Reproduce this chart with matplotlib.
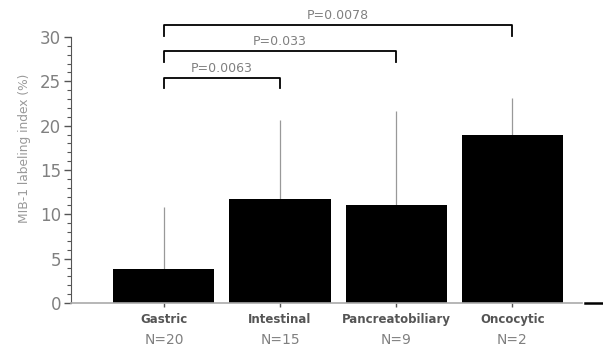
import matplotlib
matplotlib.use("Agg")
import matplotlib.pyplot as plt
from matplotlib.lines import Line2D
from matplotlib.ticker import MultipleLocator

categories = ["Gastric", "Intestinal", "Pancreatobiliary", "Oncocytic"]
counts = ["N=20", "N=15", "N=9", "N=2"]
means = [3.8, 11.7, 11.0, 18.9]
sd_upper = [7.0, 8.9, 10.6, 4.2]

# (from index, to index, bracket height, label)
comparisons = [
    (0, 1, 25.4, "P=0.0063"),
    (0, 2, 28.4, "P=0.033"),
    (0, 3, 31.3, "P=0.0078"),
]

grey = "#808080"

fig = plt.figure(figsize=(6.03, 3.47), dpi=100)
ax = fig.add_axes([0.1177, 0.1268, 0.8474, 0.7666])

x = list(range(len(categories)))
ax.bar(x, means, width=0.87, color="black", zorder=2)
ax.errorbar(x, means, yerr=[[0] * 4, sd_upper], fmt="none",
            ecolor="#999999", elinewidth=0.9, capsize=0, zorder=1)

ax.set_xlim(-0.80, 3.60)
ax.set_ylim(0, 30)
ax.yaxis.set_major_locator(MultipleLocator(5))
ax.yaxis.set_minor_locator(MultipleLocator(1))
ax.tick_params(axis="y", which="major", length=5, width=1, color="#555555",
               labelsize=12, labelcolor=grey, pad=2)
ax.tick_params(axis="y", which="minor", length=3, width=0.8, color="#555555")
ax.tick_params(axis="x", length=3, width=1, color="#555555", pad=6)
ax.set_xticks(x)
ax.set_xticklabels([""] * 4)

for spine in ["top", "right"]:
    ax.spines[spine].set_visible(False)
ax.spines["left"].set_color("#555555")
ax.spines["bottom"].set_color("#aaaaaa")
ax.spines["bottom"].set_linewidth(1.2)

for xi, name, n in zip(x, categories, counts):
    ax.text(xi, -1.1, name, ha="center", va="top", fontsize=8.5,
            fontweight="bold", color="#555555")
    ax.text(xi, -3.4, n, ha="center", va="top", fontsize=10, color=grey)

ax.set_ylabel("MIB-1 labeling index (%)", fontsize=8.8, color="#999999",
              labelpad=6)
ax.yaxis.set_label_coords(-0.078, 0.583)

for i, j, h, label in comparisons:
    ax.plot([i, i, j, j], [h - 1.2, h, h, h - 1.2], color="black", lw=1.3,
            clip_on=False)
    ax.text((i + j) / 2, h + 0.35, label, ha="center", va="bottom",
            fontsize=9, color=grey)

fig.add_artist(Line2D([585 / 603, 1.0], [1 - 303 / 347] * 2, color="black",
                      lw=1.8, transform=fig.transFigure))

fig.savefig("out.png", dpi=100)
